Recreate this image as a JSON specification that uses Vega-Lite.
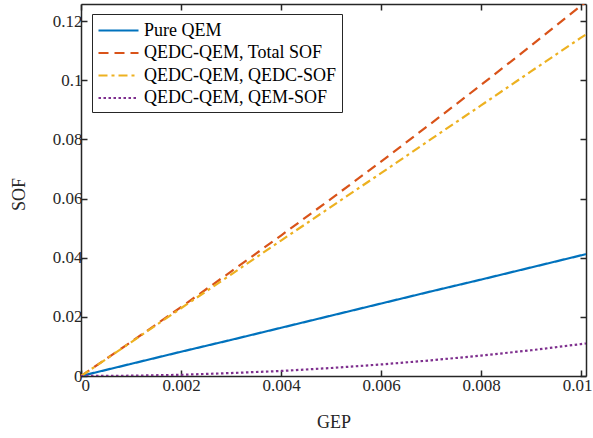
{
  "$schema": "https://vega.github.io/schema/vega-lite/v6.json",
  "width": 505,
  "height": 372,
  "autosize": {"type": "none"},
  "padding": {"left": 81, "top": 4, "right": 7, "bottom": 62},
  "background": "white",
  "config": {
    "view": {"stroke": null},
    "axis": {
      "grid": false,
      "domainColor": "#262626",
      "domainWidth": 1.5,
      "tickColor": "#262626",
      "tickWidth": 1.5,
      "tickSize": -6,
      "labelFont": "Liberation Serif",
      "labelFontSize": 17,
      "labelColor": "#262626",
      "labelOverlap": false,
      "labelBound": false,
      "titleFont": "Liberation Serif",
      "titleFontSize": 18,
      "titleFontWeight": "normal",
      "titleColor": "#262626"
    },
    "legend": {
      "orient": "none",
      "legendX": 11,
      "legendY": 10,
      "fillColor": "white",
      "strokeColor": "#262626",
      "strokeWidth": 1,
      "padding": 5,
      "labelFont": "Liberation Serif",
      "labelFontSize": 18,
      "labelColor": "#000000",
      "labelLimit": 400,
      "symbolType": "M-1,0H3",
      "symbolSize": 400,
      "symbolStrokeWidth": 2.2,
      "labelOffset": 24,
      "rowPadding": 1.5
    }
  },
  "data": {
    "values": [
      {"GEP": 0, "SOF": 0, "series": "Pure QEM"},
      {"GEP": 0.001, "SOF": 0.0041, "series": "Pure QEM"},
      {"GEP": 0.002, "SOF": 0.0082, "series": "Pure QEM"},
      {"GEP": 0.003, "SOF": 0.0122, "series": "Pure QEM"},
      {"GEP": 0.004, "SOF": 0.0163, "series": "Pure QEM"},
      {"GEP": 0.005, "SOF": 0.0204, "series": "Pure QEM"},
      {"GEP": 0.006, "SOF": 0.0245, "series": "Pure QEM"},
      {"GEP": 0.007, "SOF": 0.0286, "series": "Pure QEM"},
      {"GEP": 0.008, "SOF": 0.0326, "series": "Pure QEM"},
      {"GEP": 0.009, "SOF": 0.0367, "series": "Pure QEM"},
      {"GEP": 0.01, "SOF": 0.0408, "series": "Pure QEM"},
      {"GEP": 0.0101, "SOF": 0.0412, "series": "Pure QEM"},
      {"GEP": 0, "SOF": 0, "series": "QEDC-QEM, Total SOF"},
      {"GEP": 0.001, "SOF": 0.0115, "series": "QEDC-QEM, Total SOF"},
      {"GEP": 0.002, "SOF": 0.0233, "series": "QEDC-QEM, Total SOF"},
      {"GEP": 0.003, "SOF": 0.0353, "series": "QEDC-QEM, Total SOF"},
      {"GEP": 0.004, "SOF": 0.0475, "series": "QEDC-QEM, Total SOF"},
      {"GEP": 0.005, "SOF": 0.0599, "series": "QEDC-QEM, Total SOF"},
      {"GEP": 0.006, "SOF": 0.0725, "series": "QEDC-QEM, Total SOF"},
      {"GEP": 0.007, "SOF": 0.0854, "series": "QEDC-QEM, Total SOF"},
      {"GEP": 0.008, "SOF": 0.0984, "series": "QEDC-QEM, Total SOF"},
      {"GEP": 0.009, "SOF": 0.1117, "series": "QEDC-QEM, Total SOF"},
      {"GEP": 0.01, "SOF": 0.1252, "series": "QEDC-QEM, Total SOF"},
      {"GEP": 0.0101, "SOF": 0.1265, "series": "QEDC-QEM, Total SOF"},
      {"GEP": 0, "SOF": 0, "series": "QEDC-QEM, QEDC-SOF"},
      {"GEP": 0.001, "SOF": 0.0114, "series": "QEDC-QEM, QEDC-SOF"},
      {"GEP": 0.002, "SOF": 0.0229, "series": "QEDC-QEM, QEDC-SOF"},
      {"GEP": 0.003, "SOF": 0.0343, "series": "QEDC-QEM, QEDC-SOF"},
      {"GEP": 0.004, "SOF": 0.0458, "series": "QEDC-QEM, QEDC-SOF"},
      {"GEP": 0.005, "SOF": 0.0572, "series": "QEDC-QEM, QEDC-SOF"},
      {"GEP": 0.006, "SOF": 0.0686, "series": "QEDC-QEM, QEDC-SOF"},
      {"GEP": 0.007, "SOF": 0.0801, "series": "QEDC-QEM, QEDC-SOF"},
      {"GEP": 0.008, "SOF": 0.0915, "series": "QEDC-QEM, QEDC-SOF"},
      {"GEP": 0.009, "SOF": 0.103, "series": "QEDC-QEM, QEDC-SOF"},
      {"GEP": 0.01, "SOF": 0.1144, "series": "QEDC-QEM, QEDC-SOF"},
      {"GEP": 0.0101, "SOF": 0.1155, "series": "QEDC-QEM, QEDC-SOF"},
      {"GEP": 0, "SOF": 0, "series": "QEDC-QEM, QEM-SOF"},
      {"GEP": 0.001, "SOF": 0.0001, "series": "QEDC-QEM, QEM-SOF"},
      {"GEP": 0.002, "SOF": 0.0004, "series": "QEDC-QEM, QEM-SOF"},
      {"GEP": 0.003, "SOF": 0.001, "series": "QEDC-QEM, QEM-SOF"},
      {"GEP": 0.004, "SOF": 0.0017, "series": "QEDC-QEM, QEM-SOF"},
      {"GEP": 0.005, "SOF": 0.0027, "series": "QEDC-QEM, QEM-SOF"},
      {"GEP": 0.006, "SOF": 0.0039, "series": "QEDC-QEM, QEM-SOF"},
      {"GEP": 0.007, "SOF": 0.0053, "series": "QEDC-QEM, QEM-SOF"},
      {"GEP": 0.008, "SOF": 0.0069, "series": "QEDC-QEM, QEM-SOF"},
      {"GEP": 0.009, "SOF": 0.0087, "series": "QEDC-QEM, QEM-SOF"},
      {"GEP": 0.01, "SOF": 0.0108, "series": "QEDC-QEM, QEM-SOF"},
      {"GEP": 0.0101, "SOF": 0.011, "series": "QEDC-QEM, QEM-SOF"}
    ]
  },
  "resolve": {"axis": {"x": "independent", "y": "independent"}},
  "layer": [
    {
      "mark": {"type": "line", "strokeWidth": 2.2, "clip": true},
      "encoding": {
        "x": {
          "field": "GEP", "type": "quantitative",
          "scale": {"domain": [0, 0.0101], "nice": false, "zero": false},
          "axis": {"orient": "bottom", "values": [0, 0.002, 0.004, 0.006, 0.008, 0.01], "format": ".3~f", "labelPadding": 7, "labelOffset": {"condition": {"test": "datum.value >= 0.0099", "value": -4}, "value": 0}, "title": "GEP", "titleY": 37, "titleBaseline": "top"}
        },
        "y": {
          "field": "SOF", "type": "quantitative",
          "scale": {"domain": [0, 0.1258], "nice": false, "zero": false},
          "axis": {"orient": "left", "values": [0, 0.02, 0.04, 0.06, 0.08, 0.1, 0.12], "format": ".2~f", "labelPadding": 5, "title": "SOF", "titleX": -62, "titleY": 190, "titleAngle": -90, "titleAlign": "center", "titleBaseline": "middle"}
        },
        "color": {
          "field": "series", "type": "nominal", "title": null,
          "scale": {
            "domain": ["Pure QEM", "QEDC-QEM, Total SOF", "QEDC-QEM, QEDC-SOF", "QEDC-QEM, QEM-SOF"],
            "range": ["#0072BD", "#D95319", "#EDB120", "#7E2F8E"]
          }
        },
        "strokeDash": {
          "field": "series", "type": "nominal", "title": null,
          "scale": {
            "domain": ["Pure QEM", "QEDC-QEM, Total SOF", "QEDC-QEM, QEDC-SOF", "QEDC-QEM, QEM-SOF"],
            "range": [[1, 0], [10, 6], [9, 4, 3, 4], [2.5, 2.5]]
          }
        },
        "order": {"field": "GEP", "type": "quantitative"}
      }
    },
    {
      "mark": {"type": "line", "opacity": 0},
      "encoding": {
        "x": {
          "field": "GEP", "type": "quantitative",
          "axis": {"orient": "top", "values": [0, 0.002, 0.004, 0.006, 0.008, 0.01], "labels": false, "title": null}
        },
        "y": {
          "field": "SOF", "type": "quantitative",
          "axis": {"orient": "right", "values": [0, 0.02, 0.04, 0.06, 0.08, 0.1, 0.12], "labels": false, "title": null}
        },
        "detail": {"field": "series", "type": "nominal"}
      }
    }
  ]
}
